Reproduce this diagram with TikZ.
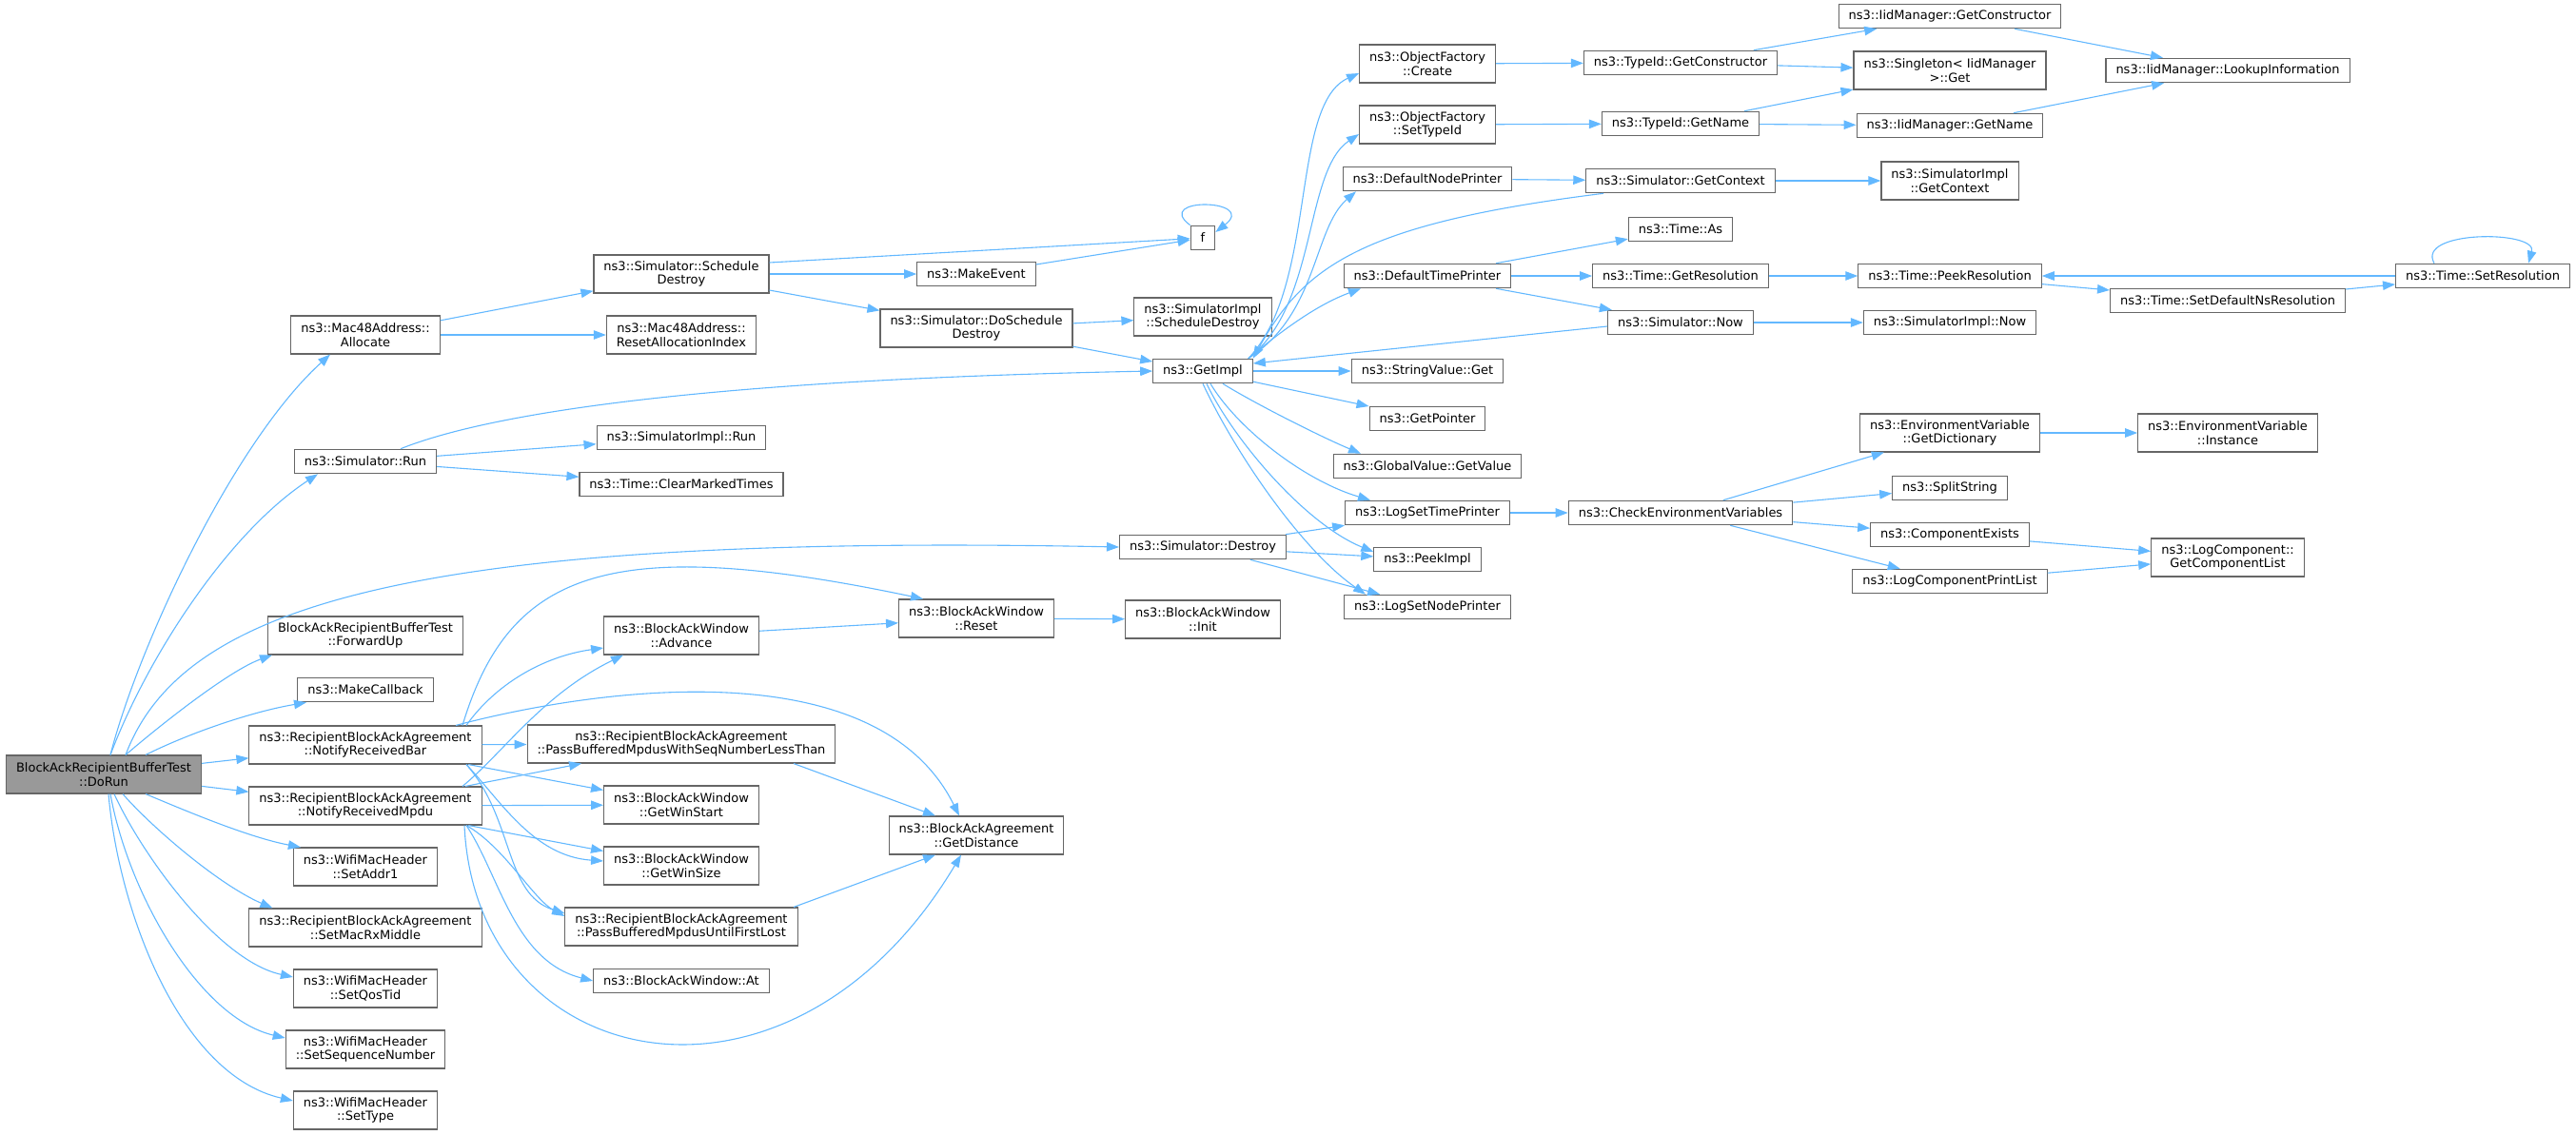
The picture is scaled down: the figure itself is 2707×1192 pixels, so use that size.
\documentclass[tikz,border=0pt]{standalone}
\usepackage{fontspec}
\setmainfont{DejaVu Sans}
\usepackage{tikz}
\usetikzlibrary{arrows.meta}

\definecolor{callblue}{HTML}{63B8FF}
\definecolor{boxgray}{HTML}{666666}
\definecolor{rootgray}{HTML}{999999}

\tikzset{
  fn/.style={draw=boxgray, line width=1.1pt, fill=white, inner xsep=10.5pt, inner ysep=2pt,
    minimum height=25.5pt, align=center, font=\fontsize{13}{14.5}\selectfont},
  fnn/.style={fn, minimum height=40pt},
  root/.style={fnn, fill=rootgray},
  call/.style={draw=callblue, line width=1.1pt,
    -{Triangle[length=13pt,width=9.5pt,color=callblue,fill=callblue]}},
}

\begin{document}
\begin{tikzpicture}[x=1pt,y=-1pt]
  \useasboundingbox (0,0) rectangle (2707,1192);

  \node[root] (dorun) at (109,814) {BlockAckRecipientBufferTest\\::DoRun};

  \node[fnn] (alloc)      at (384,352)  {ns3::Mac48Address::\\Allocate};
  \node[fn]  (simrun)     at (384,485)  {ns3::Simulator::Run};
  \node[fnn] (fwdup)      at (384,668)  {BlockAckRecipientBufferTest\\::ForwardUp};
  \node[fn]  (makecb)     at (384,725)  {ns3::MakeCallback};
  \node[fnn] (notifybar)  at (384,783)  {ns3::RecipientBlockAckAgreement\\::NotifyReceivedBar};
  \node[fnn] (notifympdu) at (384,847)  {ns3::RecipientBlockAckAgreement\\::NotifyReceivedMpdu};
  \node[fnn] (setaddr)    at (384,911)  {ns3::WifiMacHeader\\::SetAddr1};
  \node[fnn] (setmacrx)   at (384,975)  {ns3::RecipientBlockAckAgreement\\::SetMacRxMiddle};
  \node[fnn] (setqos)     at (384,1039) {ns3::WifiMacHeader\\::SetQosTid};
  \node[fnn] (setseq)     at (384,1103) {ns3::WifiMacHeader\\::SetSequenceNumber};
  \node[fnn] (settype)    at (384,1167) {ns3::WifiMacHeader\\::SetType};

  \node[fnn] (scheddestroy) at (716,288)  {ns3::Simulator::Schedule\\Destroy};
  \node[fnn] (resetalloc)   at (716,352)  {ns3::Mac48Address::\\ResetAllocationIndex};
  \node[fn]  (implrun)      at (716,460)  {ns3::SimulatorImpl::Run};
  \node[fn]  (clearmarked)  at (716,509)  {ns3::Time::ClearMarkedTimes};
  \node[fnn] (advance)      at (716,668)  {ns3::BlockAckWindow\\::Advance};
  \node[fnn] (passless)     at (716,782)  {ns3::RecipientBlockAckAgreement\\::PassBufferedMpdusWithSeqNumberLessThan};
  \node[fnn] (winstart)     at (716,846)  {ns3::BlockAckWindow\\::GetWinStart};
  \node[fnn] (winsize)      at (716,910)  {ns3::BlockAckWindow\\::GetWinSize};
  \node[fnn] (firstlost)    at (716,974)  {ns3::RecipientBlockAckAgreement\\::PassBufferedMpdusUntilFirstLost};
  \node[fn]  (winat)        at (716,1031) {ns3::BlockAckWindow::At};

  \node[fn]  (makeevent)       at (1026,288) {ns3::MakeEvent};
  \node[fnn] (doscheddestroy)  at (1026,345) {ns3::Simulator::DoSchedule\\Destroy};
  \node[fnn] (reset)           at (1026,650) {ns3::BlockAckWindow\\::Reset};
  \node[fnn] (getdist)         at (1026,878) {ns3::BlockAckAgreement\\::GetDistance};

  \node[fn]  (fnode)      at (1264,250) {f};
  \node[fnn] (implsched)  at (1264,333) {ns3::SimulatorImpl\\::ScheduleDestroy};
  \node[fn]  (getimpl)    at (1264,390) {ns3::GetImpl};
  \node[fn]  (simdestroy) at (1264,575) {ns3::Simulator::Destroy};
  \node[fnn] (init)       at (1264,651) {ns3::BlockAckWindow\\::Init};

  \node[fnn] (create)      at (1500,67)  {ns3::ObjectFactory\\::Create};
  \node[fnn] (settypeid)   at (1500,131) {ns3::ObjectFactory\\::SetTypeId};
  \node[fn]  (nodeprinter) at (1500,188) {ns3::DefaultNodePrinter};
  \node[fn]  (timeprinter) at (1500,290) {ns3::DefaultTimePrinter};
  \node[fn]  (strget)      at (1500,390) {ns3::StringValue::Get};
  \node[fn]  (getpointer)  at (1500,440) {ns3::GetPointer};
  \node[fn]  (getvalue)    at (1500,490) {ns3::GlobalValue::GetValue};
  \node[fn]  (logtime)     at (1500,539) {ns3::LogSetTimePrinter};
  \node[fn]  (peekimpl)    at (1500,588) {ns3::PeekImpl};
  \node[fn]  (lognode)     at (1500,638) {ns3::LogSetNodePrinter};

  \node[fn] (typector)   at (1766,66)  {ns3::TypeId::GetConstructor};
  \node[fn] (typename)   at (1766,130) {ns3::TypeId::GetName};
  \node[fn] (getcontext) at (1766,190) {ns3::Simulator::GetContext};
  \node[fn] (timeas)     at (1766,241) {ns3::Time::As};
  \node[fn] (getres)     at (1766,290) {ns3::Time::GetResolution};
  \node[fn] (simnow)     at (1766,339) {ns3::Simulator::Now};
  \node[fn] (checkenv)   at (1766,539) {ns3::CheckEnvironmentVariables};

  \node[fn]  (iidctor)     at (2049,17)  {ns3::IidManager::GetConstructor};
  \node[fnn] (singleton)   at (2049,74)  {ns3::Singleton< IidManager\\>::Get};
  \node[fn]  (iidname)     at (2049,132) {ns3::IidManager::GetName};
  \node[fnn] (implcontext) at (2049,190) {ns3::SimulatorImpl\\::GetContext};
  \node[fn]  (peekres)     at (2049,290) {ns3::Time::PeekResolution};
  \node[fn]  (implnow)     at (2049,339) {ns3::SimulatorImpl::Now};
  \node[fnn] (getdict)     at (2049,455) {ns3::EnvironmentVariable\\::GetDictionary};
  \node[fn]  (split)       at (2049,513) {ns3::SplitString};
  \node[fn]  (compexists)  at (2049,562) {ns3::ComponentExists};
  \node[fn]  (printlist)   at (2049,611) {ns3::LogComponentPrintList};

  \node[fn]  (lookup)   at (2341,74)  {ns3::IidManager::LookupInformation};
  \node[fn]  (setdefns) at (2341,316) {ns3::Time::SetDefaultNsResolution};
  \node[fnn] (instance) at (2341,455) {ns3::EnvironmentVariable\\::Instance};
  \node[fnn] (complist) at (2341,586) {ns3::LogComponent::\\GetComponentList};

  \node[fn] (setres) at (2609,290) {ns3::Time::SetResolution};

  \draw[call] ([xshift=7pt]dorun.north) .. controls (145,680) and (245,465) .. ([xshift=-37pt]alloc.south);
  \draw[call] ([xshift=7pt]dorun.north) .. controls (155,690) and (240,560) .. ([xshift=-50pt]simrun.south);
  \draw[call] ([xshift=23pt]dorun.north) .. controls (190,640) and (420,560) .. (simdestroy.west);
  \draw[call] ([xshift=23pt]dorun.north) .. controls (165,765) and (240,705) .. ([xshift=-98pt]fwdup.south);
  \draw[call] ([xshift=44pt]dorun.north) .. controls (200,770) and (265,748) .. ([xshift=-62pt]makecb.south);
  \path[call] (dorun) edge (notifybar) (dorun) edge (notifympdu);
  \draw[call] ([xshift=44pt]dorun.south) .. controls (190,850) and (260,880) .. ([xshift=8pt]setaddr.north west);
  \draw[call] ([xshift=20pt]dorun.south) .. controls (160,870) and (230,930) .. ([xshift=25pt]setmacrx.north west);
  \draw[call] ([xshift=11pt]dorun.south) .. controls (150,900) and (230,1010) .. ([yshift=12pt]setqos.west);
  \draw[call] ([xshift=7pt]dorun.south) .. controls (135,940) and (210,1070) .. ([yshift=12pt]setseq.west);
  \draw[call] ([xshift=5pt]dorun.south) .. controls (125,960) and (190,1130) .. ([yshift=10pt]settype.west);

  \path[call]
    (alloc) edge (scheddestroy) (alloc) edge (resetalloc)
    (simrun) edge (implrun) (simrun) edge (clearmarked);
  \draw[call] ([xshift=37pt]simrun.north) .. controls (500,440) and (700,400) .. (getimpl.west);

  \draw[call] ([xshift=102pt]notifybar.north) .. controls (535,600) and (640,560) .. ([xshift=-56pt]reset.north);
  \draw[call] ([xshift=106pt]notifybar.north) .. controls (520,720) and (570,690) .. ([yshift=-13pt]advance.west);
  \draw[call] ([xshift=95pt]notifybar.north) .. controls (620,725) and (920,680) .. ([xshift=-18pt]getdist.north);
  \path[call] (notifybar) edge (passless) (notifybar) edge (winstart);
  \draw[call] ([xshift=106pt]notifybar.south) .. controls (525,840) and (560,900) .. ([yshift=5pt]winsize.west);
  \draw[call] ([xshift=106pt]notifybar.south) .. controls (540,860) and (530,940) .. ([yshift=14pt]firstlost.west);

  \draw[call] ([xshift=102pt]notifympdu.north) .. controls (530,790) and (570,730) .. ([xshift=-61pt]advance.south);
  \path[call] (notifympdu) edge (passless) (notifympdu) edge (winstart) (notifympdu) edge (winsize);
  \draw[call] ([xshift=106pt]notifympdu.south) .. controls (530,890) and (560,945) .. ([yshift=11pt]firstlost.west);
  \draw[call] ([xshift=106pt]notifympdu.south) .. controls (525,920) and (540,1010) .. (winat.west);
  \draw[call] ([xshift=104pt]notifympdu.south) .. controls (500,1130) and (830,1200) .. ([xshift=-16pt]getdist.south);

  \path[call]
    (scheddestroy) edge (makeevent) (scheddestroy) edge (doscheddestroy)
    (advance) edge (reset);
  \draw[call] ([yshift=12pt]scheddestroy.east) -- (fnode);
  \draw[call] ([xshift=118pt]passless.south) -- ([xshift=-43pt]getdist.north);
  \draw[call] ([xshift=118pt]firstlost.north) -- ([xshift=-43pt]getdist.south);

  \path[call]
    (makeevent) edge (fnode) (doscheddestroy) edge (implsched)
    (doscheddestroy) edge (getimpl) (reset) edge (init);
  \draw[call] (fnode.north west) .. controls +(-40,-30) and +(45,-35) .. ([yshift=6pt]fnode.east);

  \path[call] (getimpl) edge (strget) (getimpl) edge (getpointer);
  \draw[call] ([xshift=-5pt]getimpl.north east) .. controls (1385,300) and (1355,110) .. ([yshift=-10pt]create.west);
  \draw[call] ([xshift=-5pt]getimpl.north east) .. controls (1385,320) and (1370,180) .. ([yshift=-10pt]settypeid.west);
  \draw[call] ([xshift=-5pt]getimpl.north east) .. controls (1385,330) and (1380,240) .. ([xshift=-75pt]nodeprinter.south);
  \draw[call] ([xshift=-5pt]getimpl.north east) .. controls (1350,345) and (1385,320) .. ([xshift=-70pt]timeprinter.south);
  \draw[call] ([xshift=21pt]getimpl.south) .. controls (1320,425) and (1390,460) .. ([xshift=-70pt]getvalue.north);
  \draw[call] ([xshift=8pt]getimpl.south) .. controls (1300,450) and (1370,505) .. ([xshift=-60pt]logtime.north);
  \draw[call] ([xshift=4pt]getimpl.south) .. controls (1295,460) and (1370,550) .. ([yshift=8pt]peekimpl.west);
  \draw[call] (getimpl.south) .. controls (1300,480) and (1370,580) .. ([xshift=-65pt]lognode.north);
  \draw[call] ([xshift=-81pt]getcontext.south) .. controls (1430,235) and (1370,280) .. (getimpl.north east);
  \draw[call] ([yshift=-4pt]simnow.west) -- ([yshift=8pt]getimpl.east);

  \path[call] (simdestroy) edge (logtime) (simdestroy) edge (peekimpl) (simdestroy) edge (lognode);

  \path[call]
    (create) edge (typector) (settypeid) edge (typename)
    (nodeprinter) edge (getcontext)
    (timeprinter) edge (timeas) (timeprinter) edge (getres) (timeprinter) edge (simnow)
    (logtime) edge (checkenv);

  \path[call]
    (typector) edge (iidctor) (typector) edge (singleton)
    (typename) edge (singleton) (typename) edge (iidname)
    (getcontext) edge (implcontext) (getres) edge (peekres) (simnow) edge (implnow)
    (checkenv) edge (getdict) (checkenv) edge (split)
    (checkenv) edge (compexists) (checkenv) edge (printlist);

  \path[call]
    (iidctor) edge (lookup) (iidname) edge (lookup)
    (peekres) edge (setdefns) (getdict) edge (instance)
    (compexists) edge (complist) (printlist) edge (complist);

  \path[call] (setdefns) edge (setres) (setres) edge (peekres);
  \draw[call] ([xshift=-51pt]setres.north) .. controls +(-20,-35) and +(10,-35) .. ([xshift=48pt]setres.north);
\end{tikzpicture}
\end{document}
